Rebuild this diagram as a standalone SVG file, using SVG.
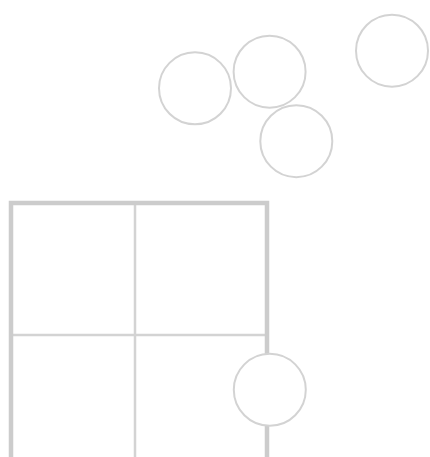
<svg xmlns="http://www.w3.org/2000/svg" width="430" height="457" viewBox="0 0 430 457">
<style>
.c{fill:none;stroke:#d3d3d3;stroke-width:2}
.cw{fill:#fff;stroke:#d3d3d3;stroke-width:2}
.frame{fill:none;stroke:#cccccc;stroke-width:4.5}
.inner{stroke:#d3d3d3;stroke-width:2.5}
</style>
<rect width="430" height="457" fill="#fff"/>
<g id="grid">
<line class="inner" x1="135" y1="203" x2="135" y2="460"/>
<line class="inner" x1="11" y1="335" x2="267" y2="335"/>
<path class="frame" d="M11,462 V203 H267 V462"/>
</g>
<g id="n1"><circle class="c" cx="195" cy="88.3" r="36"/></g>
<g id="n2"><circle class="c" cx="269.6" cy="71.7" r="36"/></g>
<g id="n3"><circle class="c" cx="296.3" cy="141.2" r="36"/></g>
<g id="n4"><circle class="c" cx="392" cy="50.7" r="36"/></g>
<g id="n5"><circle class="cw" cx="269.8" cy="389.8" r="36"/></g>
<g id="connectors"></g>
</svg>
